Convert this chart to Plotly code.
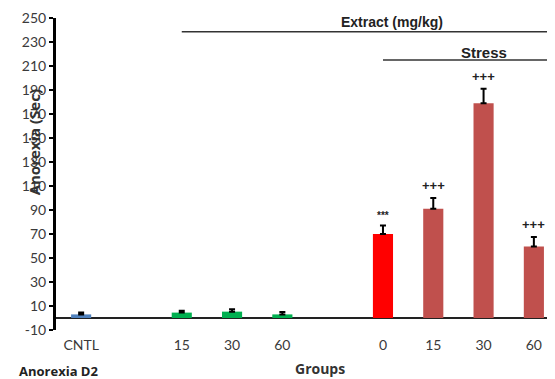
import plotly.graph_objects as go

# Data
groups = ["CNTL", "15", "30", "60", "0", "15", "30", "60"]
group_pos = [0, 2, 3, 4, 6, 7, 8, 9]
values = [3, 4.5, 5.3, 3, 70, 91, 179, 59.5]
errors = [1.5, 1.5, 2, 2, 7, 9, 12, 8]
colors = ["#4F81BD", "#00B050", "#00B050", "#00B050", "#FF0000", "#C0504D", "#C0504D", "#C0504D"]
signif = ["", "", "", "", "***", "+++", "+++", "+++"]
y_ticks = list(range(-10, 251, 20))
y_ticktext = [str(t) for t in y_ticks]

fig = go.Figure()
fig.add_trace(go.Bar(
    x=group_pos, y=values, width=0.4,
    marker=dict(color=colors, line=dict(width=0)),
    error_y=dict(type="data", array=errors, arrayminus=[0] * len(errors), symmetric=False,
                 color="black", thickness=2, width=3),
    showlegend=False,
))

for xp, v, e, s in zip(group_pos, values, errors, signif):
    if s:
        fig.add_annotation(x=xp, y=v + e, text="<b>" + s + "</b>", showarrow=False,
                           yanchor="bottom", yshift=3,
                           font=dict(family="Arial", size=10 if s == "***" else 13, color="#222"))

# bracket lines and labels
fig.add_shape(type="line", x0=2, x1=9.5, y0=238.6, y1=238.6, line=dict(color="#333", width=1.5))
fig.add_shape(type="line", x0=6, x1=9.5, y0=215, y1=215, line=dict(color="#333", width=1.5))
fig.add_annotation(x=6.17, y=246.5, text="<b>Extract (mg/kg)</b>", showarrow=False,
                   font=dict(family="Arial", size=14, color="#222"))
fig.add_annotation(x=8.0, y=221.5, text="<b>Stress</b>", showarrow=False,
                   font=dict(family="Arial", size=15, color="#222"))

# axis titles
fig.add_annotation(xref="paper", yref="paper", x=-0.069, y=0.6, text="<b>Anorexia (Sec)</b>",
                   textangle=-90, showarrow=False,
                   font=dict(family="Open Sans", size=15, color="#333"))
fig.add_annotation(xref="paper", yref="paper", x=0.529, y=-0.124, text="<b>Groups</b>",
                   showarrow=False, yanchor="middle",
                   font=dict(family="Open Sans", size=14, color="#333"))
fig.add_annotation(xref="paper", yref="paper", x=-0.078, y=-0.13, text="<b>Anorexia D2</b>",
                   showarrow=False, xanchor="left", yanchor="middle",
                   font=dict(family="Open Sans", size=13, color="#222"))

fig.update_layout(
    width=547, height=371,
    margin=dict(l=48, r=0, t=10, b=49, autoexpand=False),
    plot_bgcolor="white", paper_bgcolor="white",
    xaxis=dict(range=[-0.5, 9.42], tickmode="array", tickvals=group_pos, ticktext=groups,
               showgrid=False, zeroline=False, showline=False, ticks="", automargin=False,
               ticklabelstandoff=5,
               tickfont=dict(family="Lato", size=14, color="#3a3a3a")),
    yaxis=dict(range=[-10, 250], tickmode="array", tickvals=y_ticks, ticktext=y_ticktext,
               showgrid=False, showline=True, linecolor="black", linewidth=3,
               ticks="outside", ticklen=4, tickwidth=2, tickcolor="black", automargin=False,
               zeroline=True, zerolinecolor="#222", zerolinewidth=2,
               tickfont=dict(family="Lato", size=14, color="#3a3a3a")),
)

fig.write_html("out.html")
